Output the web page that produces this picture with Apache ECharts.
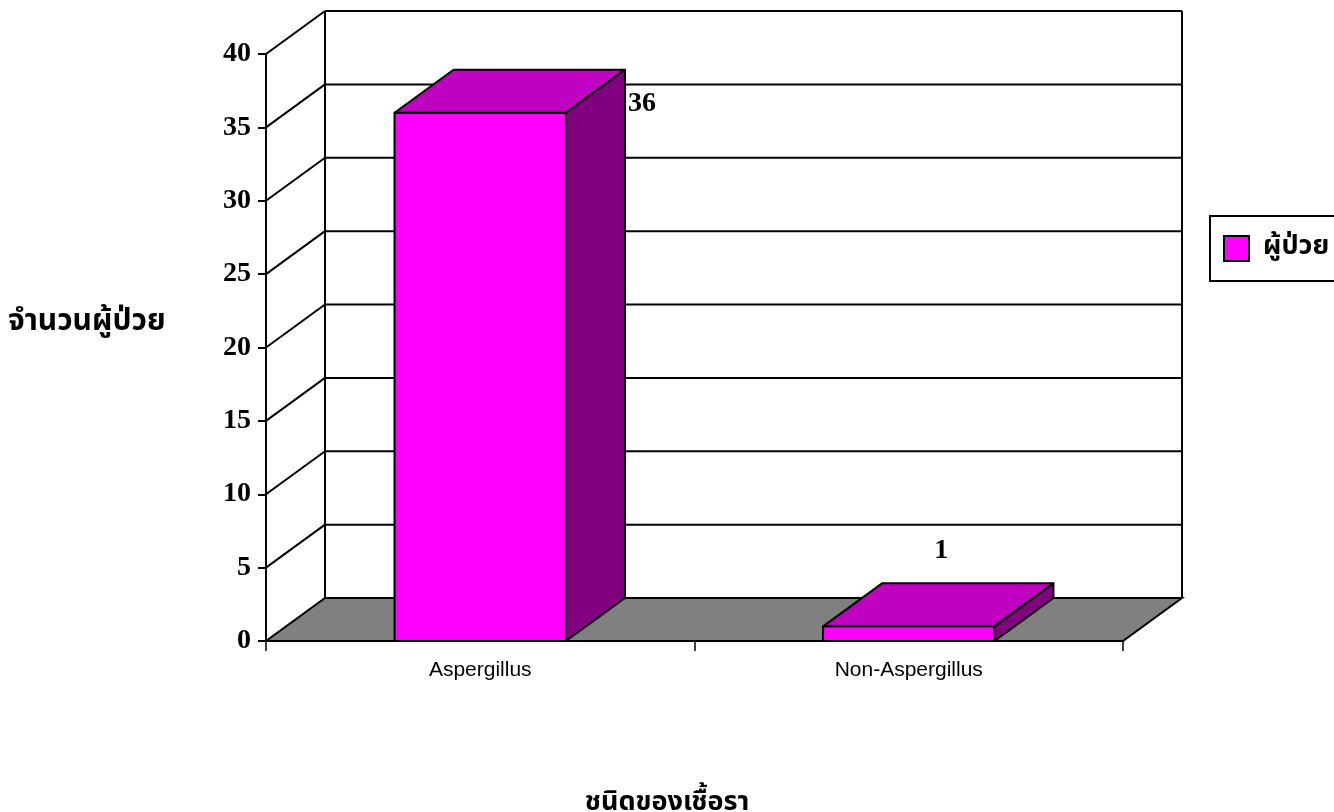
<!DOCTYPE html>
<html>
<head>
<meta charset="utf-8">
<title>ชนิดของเชื้อรา</title>
<script src="https://cdn.jsdelivr.net/npm/echarts@6/dist/echarts.min.js"></script>
<style>
  html, body { margin: 0; padding: 0; background: #fff; }
  #chart { width: 1334px; height: 812px; }
</style>
</head>
<body>
<div id="chart"></div>
<script>
// data
const categories = ['Aspergillus', 'Non-Aspergillus'];
const patients = [36, 1];
const yTicks = [0, 5, 10, 15, 20, 25, 30, 35, 40];
const seriesName = 'ผู้ป่วย';

// depth of the 3d box, in pixels
const DX = 59;
const DY = -43;
const THAI = "'Noto Sans Thai', 'Noto Sans', 'DejaVu Sans', sans-serif";
const SERIF = "'Liberation Serif', 'DejaVu Serif', serif";

const chart = echarts.init(document.getElementById('chart'));

function renderWall(params, api) {
  const cs = params.coordSys;
  const x0 = cs.x;
  const x1 = cs.x + cs.width;
  const v = api.value(0);
  const y = api.coord([0, v])[1];
  const line = { stroke: '#000', lineWidth: 2 };
  const children = [];
  if (params.dataIndex === 0) {
    const yTop = api.coord([0, yTicks[yTicks.length - 1]])[1];
    children.push({
      type: 'polygon',
      shape: { points: [[x0, y], [x1, y], [x1 + DX, y + DY], [x0 + DX, y + DY]] },
      style: { fill: '#808080', stroke: '#000', lineWidth: 2 },
    });
    children.push({ type: 'line', shape: { x1: x0 + DX, y1: y + DY, x2: x0 + DX, y2: yTop + DY }, style: line });
    children.push({ type: 'line', shape: { x1: x1 + DX, y1: y + DY, x2: x1 + DX, y2: yTop + DY }, style: line });
  } else {
    children.push({ type: 'line', shape: { x1: x0, y1: y, x2: x0 + DX, y2: y + DY }, style: line });
    children.push({ type: 'line', shape: { x1: x0 + DX, y1: y + DY, x2: x1 + DX, y2: y + DY }, style: line });
  }
  return { type: 'group', children: children };
}

function renderBar(params, api) {
  const cs = params.coordSys;
  const idx = api.value(0);
  const val = api.value(1);
  const top = api.coord([idx, val]);
  const base = api.coord([idx, 0]);
  const w = api.size([1, 0])[0] * 0.4;
  const l = top[0] - w / 2;
  const r = top[0] + w / 2;
  const yt = top[1];
  const yb = base[1];
  const edge = { stroke: '#000', lineWidth: 2, lineJoin: 'round' };
  // label goes above the bar unless it would leave the plot, then beside it
  let label;
  if (yt + DY - 33 < cs.y) {
    label = { x: r + DX + 3, y: yt + DY + 34, align: 'left' };
  } else {
    label = { x: top[0] + DX / 2 + 3, y: yt + DY - 33, align: 'center' };
  }
  return {
    type: 'group',
    children: [
      { type: 'rect', shape: { x: l, y: yt, width: w, height: yb - yt },
        style: Object.assign({ fill: '#FF00FF' }, edge) },
      { type: 'polygon', shape: { points: [[l, yt], [r, yt], [r + DX, yt + DY], [l + DX, yt + DY]] },
        style: Object.assign({ fill: '#C000C0' }, edge) },
      { type: 'polygon', shape: { points: [[r, yt], [r + DX, yt + DY], [r + DX, yb + DY], [r, yb]] },
        style: Object.assign({ fill: '#800080' }, edge) },
      { type: 'text', x: label.x, y: label.y,
        style: { text: String(val), fontFamily: SERIF, fontWeight: 'bold', fontSize: 28,
          fill: '#000', align: label.align, verticalAlign: 'middle' } },
    ],
  };
}

const option = {
  backgroundColor: '#fff',
  animation: false,
  grid: { left: 266, right: 211, top: 54, bottom: 171 },
  legend: {
    left: 1210,
    top: 216,
    orient: 'vertical',
    padding: [19, 40, 19, 13],
    borderColor: '#000',
    borderWidth: 2,
    itemWidth: 25,
    itemHeight: 25,
    textStyle: { fontFamily: THAI, fontWeight: 'bold', fontSize: 27, lineHeight: 26,
      color: '#000', padding: [0, 0, 0, 9] },
    data: [{ name: seriesName, icon: 'rect',
      itemStyle: { color: '#FF00FF', borderColor: '#000', borderWidth: 2 } }],
  },
  xAxis: {
    type: 'category',
    data: categories,
    boundaryGap: true,
    axisLine: { lineStyle: { color: '#000', width: 2 } },
    axisTick: { show: true, length: 10, lineStyle: { color: '#000', width: 1.5 } },
    axisLabel: { color: '#000', fontFamily: "'Liberation Sans', Arial, sans-serif", fontSize: 21, margin: 19 },
    splitLine: { show: false },
  },
  yAxis: {
    type: 'value',
    min: 0,
    max: 40,
    interval: 5,
    axisLine: { show: true, lineStyle: { color: '#000', width: 2 } },
    axisTick: { show: true, length: 8, lineStyle: { color: '#000', width: 2 } },
    axisLabel: { color: '#000', fontFamily: SERIF, fontWeight: 'bold', fontSize: 28, margin: 15 },
    splitLine: { show: false },
  },
  graphic: [
    { type: 'text', left: 8, top: 309,
      style: { text: 'จำนวนผู้ป่วย', fontFamily: THAI, fontWeight: 'bold', fontSize: 30, fill: '#000' } },
    { type: 'text', left: 'center', top: 791,
      style: { text: 'ชนิดของเชื้อรา', fontFamily: THAI, fontWeight: 'bold', fontSize: 27, fill: '#000' } },
  ],
  series: [
    {
      type: 'custom',
      name: 'wall',
      renderItem: renderWall,
      data: yTicks.map((v) => [v]),
      encode: { y: 0 },
      silent: true,
      z: 1,
    },
    {
      type: 'custom',
      name: seriesName,
      renderItem: renderBar,
      itemStyle: { color: '#FF00FF' },
      data: patients.map((v, i) => [i, v]),
      encode: { x: 0, y: 1 },
      z: 2,
    },
  ],
};

chart.setOption(option);
</script>
</body>
</html>
